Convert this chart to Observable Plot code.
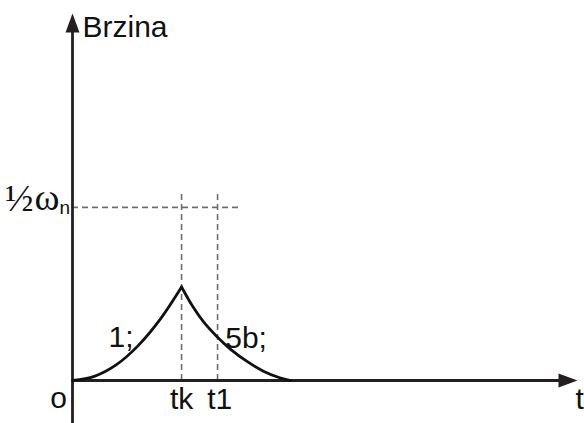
<!DOCTYPE html>
<html>
<head>
<meta charset="utf-8">
<script src="https://cdn.jsdelivr.net/npm/d3@7"></script>
<script src="https://cdn.jsdelivr.net/npm/@observablehq/plot@0.6"></script>
<style>
  html, body { margin: 0; padding: 0; background: #fff; }
</style>
</head>
<body>
<div id="chart"></div>
<script>
// Time in units of tk, speed in units of the nominal speed ωn
const tk = 1.0;
const t1 = 1.33;
const halfOmega = 0.5;
const xMax = 4.63;
const yMax = 1.06;

// Acceleration branch "1;" (0 → tk)
const riseT = [0, 0.2, 0.4, 0.6, 0.8, 1.0];
const riseV = [0, 0.012, 0.045, 0.1, 0.175, 0.27];

// Braking branch "5b;" (tk → 2·tk)
const fallT = [1.0, 1.1, 1.2, 1.33, 1.45, 1.6, 1.75, 1.9, 2.0];
const fallV = [0.27, 0.215, 0.17, 0.125, 0.09, 0.055, 0.027, 0.008, 0];

// Curve labels and their anchor points
const curveLabels = ["1;", "5b;"];
const curveLabelT = [0.33, 1.40];
const curveLabelV = [0.098, 0.095];

// Time-axis labels
const timeLabels = ["tk", "t1"];
const timeLabelT = [tk, t1 + 0.02];

const rise = riseT.map((t, i) => ({t, v: riseV[i]}));
const fall = fallT.map((t, i) => ({t, v: fallV[i]}));
const labels = curveLabels.map((text, i) => ({text, t: curveLabelT[i], v: curveLabelV[i]}));
const ticks = timeLabels.map((text, i) => ({text, t: timeLabelT[i]}));

// Narrow filled arrowhead, tip at the origin, pointing up
const arrowHead = {
  draw(context) {
    context.moveTo(0, 0);
    context.lineTo(-7, 19);
    context.lineTo(7, 19);
    context.closePath();
  }
};

const axisColor = "#231f20";
const dashColor = "#6e6e6e";
const sans = "Liberation Sans, Arial, sans-serif";
const serif = "Liberation Serif, Times New Roman, serif";

const chart = Plot.plot({
  width: 584,
  height: 423,
  marginLeft: 72,
  marginRight: 7,
  marginTop: 13,
  marginBottom: 43,
  x: {domain: [0, xMax], axis: null},
  y: {domain: [0, yMax], axis: null},
  style: {background: "#fff", overflow: "visible"},
  marks: [
    // guide lines
    Plot.ruleY([halfOmega], {x1: 0, x2: 1.54, stroke: dashColor, strokeWidth: 1.6, strokeDasharray: "6,4"}),
    Plot.ruleX([tk, t1], {y1: 0, y2: 0.54, stroke: dashColor, strokeWidth: 1.6, strokeDasharray: "6,4"}),
    // axes
    Plot.ruleX([0], {y1: -0.13, y2: yMax - 0.03, stroke: axisColor, strokeWidth: 2.8}),
    Plot.ruleY([0], {x1: 0, x2: xMax - 0.1, stroke: axisColor, strokeWidth: 2.8}),
    Plot.dot([{t: 0, v: yMax}], {x: "t", y: "v", symbol: arrowHead, fill: axisColor, stroke: "none", r: 1}),
    Plot.dot([{t: xMax, v: 0}], {x: "t", y: "v", symbol: arrowHead, fill: axisColor, stroke: "none", r: 1, rotate: 90}),
    // speed curves
    Plot.line(rise, {x: "t", y: "v", curve: "catmull-rom", stroke: "#111", strokeWidth: 2.8}),
    Plot.line(fall, {x: "t", y: "v", curve: "catmull-rom", stroke: "#111", strokeWidth: 2.8}),
    // texts
    Plot.text([{t: 0, v: yMax}], {x: "t", y: "v", text: () => "Brzina", textAnchor: "start", lineAnchor: "bottom", dx: 10, dy: 23, fontSize: 30, fontFamily: sans, fill: "#111"}),
    Plot.text([{t: 0, v: halfOmega}], {x: "t", y: "v", text: () => "½", textAnchor: "end", lineAnchor: "bottom", dx: -39, dy: 4, fontSize: 38, fontFamily: serif, fill: "#111"}),
    Plot.text([{t: 0, v: halfOmega}], {x: "t", y: "v", text: () => "ω", textAnchor: "end", lineAnchor: "bottom", dx: -13, dy: 3, fontSize: 38, fontFamily: serif, fill: "#111"}),
    Plot.text([{t: 0, v: halfOmega}], {x: "t", y: "v", text: () => "n", textAnchor: "start", lineAnchor: "bottom", dx: -13, dy: 7, fontSize: 19, fontFamily: sans, fill: "#111"}),
    Plot.text(labels, {x: "t", y: "v", text: "text", textAnchor: "start", lineAnchor: "bottom", fontSize: 30, fontFamily: sans, fill: "#111"}),
    Plot.text(ticks, {x: "t", y: () => 0, text: "text", textAnchor: "middle", lineAnchor: "bottom", dy: 28, fontSize: 30, fontFamily: sans, fill: "#111"}),
    Plot.text([{t: 0, v: 0}], {x: "t", y: "v", text: () => "o", textAnchor: "middle", lineAnchor: "bottom", dx: -14, dy: 27, fontSize: 30, fontFamily: sans, fill: "#111"}),
    Plot.text([{t: xMax, v: 0}], {x: "t", y: "v", text: () => "t", textAnchor: "start", lineAnchor: "bottom", dx: -2, dy: 28, fontSize: 30, fontFamily: sans, fill: "#111"})
  ]
});

document.getElementById("chart").appendChild(chart);
</script>
</body>
</html>
